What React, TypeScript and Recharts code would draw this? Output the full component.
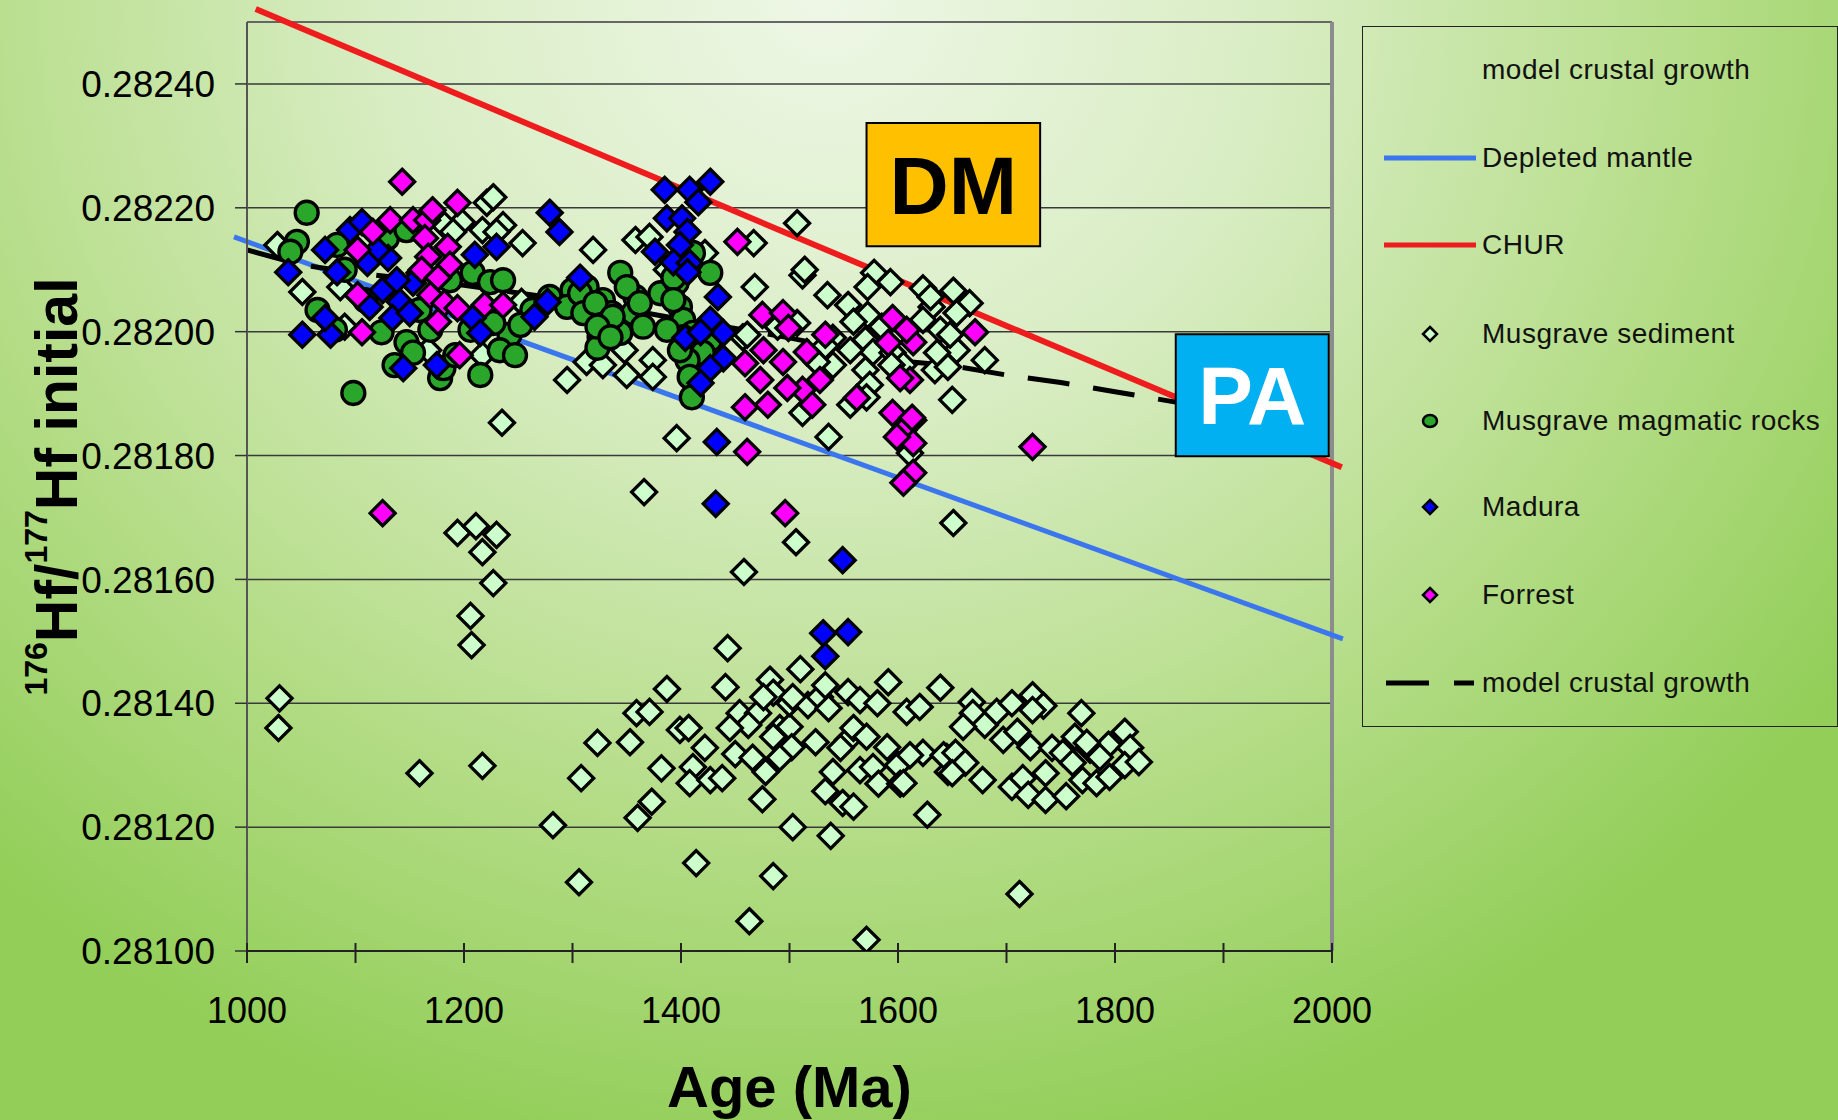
import {
  ComposedChart,
  Scatter,
  Line,
  XAxis,
  YAxis,
  CartesianGrid,
  ReferenceLine,
  ReferenceArea,
} from 'recharts';

// ages in Ma, 176Hf/177Hf initial
const sedimentPts: [number, number][] = [
  [1282, 0.281203], [1306, 0.281111], [1308, 0.281279], [1323, 0.281336], [1353, 0.281337],
  [1359, 0.281384], [1371, 0.281386], [1387, 0.281423], [1382, 0.281295], [1373, 0.281241],
  [1360, 0.281215], [1399, 0.281357], [1407, 0.28136], [1411, 0.281297], [1408, 0.281271],
  [1422, 0.281328], [1427, 0.281276], [1438, 0.281279], [1414, 0.281142], [1443, 0.281489],
  [1441, 0.281426], [1454, 0.281384], [1471, 0.281384], [1462, 0.281365], [1445, 0.28136],
  [1450, 0.281318], [1466, 0.281312], [1478, 0.281289], [1475, 0.281245], [1463, 0.281048],
  [1485, 0.281121], [1482, 0.281438], [1485, 0.281417], [1476, 0.28141], [1491, 0.28136],
  [1485, 0.281346], [1500, 0.281362], [1502, 0.281329], [1491, 0.281312], [1510, 0.281455],
  [1500, 0.2814], [1517, 0.281397], [1503, 0.28141], [1503, 0.2812], [1524, 0.281337],
  [1528, 0.28141], [1536, 0.281392], [1533, 0.281429], [1554, 0.281418], [1565, 0.281405],
  [1581, 0.2814], [1591, 0.281434], [1540, 0.281289], [1533, 0.281258], [1538, 0.281186],
  [1549, 0.281239], [1559, 0.281233], [1554, 0.281341], [1559, 0.28136], [1571, 0.281346],
  [1547, 0.281328], [1565, 0.281292], [1577, 0.281297], [1582, 0.28127], [1590, 0.281329],
  [1600, 0.2813], [1602, 0.28127], [1571, 0.281018], [1608, 0.281386], [1620, 0.281394],
  [1627, 0.28122], [1623, 0.28132], [1611, 0.281316], [1639, 0.281425], [1645, 0.281313],
  [1646, 0.281289], [1605, 0.281271], [1642, 0.281316], [1653, 0.28132], [1662, 0.281304],
  [1650, 0.281287], [1668, 0.281402], [1669, 0.281384], [1680, 0.281365], [1660, 0.281362],
  [1678, 0.281276], [1691, 0.281386], [1705, 0.2814], [1724, 0.281413], [1734, 0.281396],
  [1724, 0.281389], [1697, 0.281341], [1710, 0.281354], [1722, 0.281329], [1705, 0.281265],
  [1715, 0.281279], [1720, 0.281252], [1736, 0.281244], [1736, 0.281287], [1742, 0.281328],
  [1752, 0.28132], [1712, 0.281092], [1755, 0.28125], [1761, 0.281304], [1763, 0.281346],
  [1770, 0.281276], [1777, 0.281325], [1783, 0.281271], [1769, 0.281384], [1794, 0.281333],
  [1795, 0.281281], [1809, 0.281354], [1814, 0.281328], [1809, 0.2813], [1822, 0.281305],
  [1786, 0.281313], [1774, 0.281336],
  [1030, 0.281408], [1029, 0.28136], [1159, 0.281287], [1217, 0.281299], [1194, 0.281675],
  [1211, 0.281686], [1230, 0.281672], [1217, 0.281644], [1227, 0.281594], [1206, 0.281541],
  [1207, 0.281494], [1366, 0.281741], [1458, 0.281612], [1506, 0.28166], [1651, 0.281691],
  [1396, 0.281828], [1235, 0.281853],
  [1028, 0.28214], [1051, 0.282064], [1090, 0.282008], [1221, 0.282208], [1227, 0.282217],
  [1198, 0.282177], [1217, 0.282164], [1236, 0.282172], [1230, 0.282161], [1254, 0.282143],
  [1182, 0.282172], [1190, 0.282161], [1086, 0.282072], [1167, 0.28197], [1217, 0.281962],
  [1253, 0.282048], [1295, 0.281922], [1319, 0.282132], [1358, 0.282148], [1371, 0.282153],
  [1313, 0.281951], [1328, 0.281946], [1348, 0.28197], [1350, 0.28193], [1374, 0.281954],
  [1374, 0.281927], [1422, 0.282127], [1507, 0.282175], [1512, 0.282091], [1514, 0.2821],
  [1468, 0.282072], [1387, 0.2821], [1457, 0.281991], [1535, 0.282059], [1578, 0.282095],
  [1593, 0.28208], [1572, 0.282072], [1623, 0.28207], [1631, 0.28204], [1666, 0.282046],
  [1654, 0.28203], [1554, 0.282043], [1572, 0.282027], [1585, 0.282008], [1512, 0.281869],
  [1536, 0.28183], [1650, 0.28189], [1680, 0.281954], [1634, 0.281938], [1623, 0.282019],
  [1639, 0.282003], [1570, 0.281987], [1577, 0.281967], [1556, 0.28197], [1540, 0.28199],
  [1540, 0.281946], [1570, 0.281938], [1595, 0.281966], [1605, 0.281946], [1654, 0.28197],
  [1648, 0.281995], [1461, 0.281995], [1574, 0.281914], [1571, 0.281894], [1614, 0.281857],
  [1646, 0.281943], [1559, 0.282016], [1630, 0.282056], [1636, 0.281966], [1594, 0.281946],
  [1556, 0.281882], [1611, 0.281804], [1467, 0.282143], [1533, 0.281977], [1651, 0.282066],
  [1489, 0.282008], [1507, 0.282014], [1525, 0.281951],
];

const magmaticPts: [number, number][] = [
  [1055, 0.282192], [1046, 0.282145], [1040, 0.282129], [1098, 0.281901], [1124, 0.281999],
  [1147, 0.281983], [1153, 0.281966], [1178, 0.281925], [1181, 0.281941], [1208, 0.282095],
  [1224, 0.28208], [1236, 0.282083], [1242, 0.281995], [1233, 0.28197], [1227, 0.282014],
  [1129, 0.282151], [1147, 0.282164], [1083, 0.28214], [1263, 0.282035], [1090, 0.2821],
  [1109, 0.282051], [1159, 0.282035], [1187, 0.282083], [1206, 0.282003], [1215, 0.28193],
  [1192, 0.281962], [1136, 0.281946], [1169, 0.282003], [1252, 0.282011], [1247, 0.281962],
  [1065, 0.282035], [1081, 0.282003],
  [1300, 0.282067], [1313, 0.282072], [1328, 0.282051], [1344, 0.282095], [1336, 0.28203],
  [1325, 0.281991], [1323, 0.281974], [1344, 0.281998], [1358, 0.282056], [1279, 0.282056],
  [1295, 0.28204], [1307, 0.282062], [1310, 0.28203], [1321, 0.282046], [1350, 0.282072],
  [1356, 0.28203], [1337, 0.282024], [1323, 0.282008], [1335, 0.281991], [1381, 0.282062],
  [1396, 0.282079], [1399, 0.28204], [1411, 0.282127], [1402, 0.282019], [1411, 0.281998],
  [1427, 0.281987], [1420, 0.281966], [1362, 0.282046], [1365, 0.282008], [1393, 0.282087],
  [1393, 0.282051], [1402, 0.281991], [1406, 0.281954], [1408, 0.281927], [1410, 0.281894],
  [1427, 0.282095], [1387, 0.282003], [1399, 0.28197],
];

const maduraPts: [number, number][] = [
  [1038, 0.282096], [1051, 0.281995], [1072, 0.282132], [1083, 0.282096], [1077, 0.281995],
  [1072, 0.282022], [1095, 0.282164], [1106, 0.282177], [1113, 0.28204], [1130, 0.282119],
  [1141, 0.282048], [1134, 0.282022], [1150, 0.28203], [1120, 0.282132], [1144, 0.281941],
  [1175, 0.281946], [1208, 0.282022], [1210, 0.282124], [1230, 0.282137], [1265, 0.282024],
  [1159, 0.282095], [1153, 0.282079], [1125, 0.282067], [1111, 0.282111], [1138, 0.282083],
  [1215, 0.281998], [1279, 0.282192], [1288, 0.282161], [1307, 0.282087], [1277, 0.282048],
  [1385, 0.282229], [1408, 0.282229], [1427, 0.282242], [1416, 0.282209], [1387, 0.282183],
  [1401, 0.282183], [1406, 0.282161], [1399, 0.28214], [1376, 0.282129], [1393, 0.282112],
  [1408, 0.282111], [1406, 0.282096], [1434, 0.282056], [1404, 0.28199], [1439, 0.281998],
  [1439, 0.281957], [1427, 0.282019], [1418, 0.281999], [1427, 0.281941], [1418, 0.281917],
  [1433, 0.281822], [1432, 0.281722], [1549, 0.281631], [1531, 0.281513], [1554, 0.281515],
  [1533, 0.281476],
];

const forrestPts: [number, number][] = [
  [1143, 0.282242], [1194, 0.282208], [1132, 0.28218], [1116, 0.282161], [1102, 0.282132],
  [1153, 0.28218], [1166, 0.28218], [1171, 0.282196], [1164, 0.282151], [1185, 0.282137],
  [1167, 0.282121], [1187, 0.282108], [1161, 0.2821], [1176, 0.282087], [1102, 0.282059],
  [1106, 0.281999], [1169, 0.282059], [1182, 0.282046], [1194, 0.282038], [1176, 0.282016],
  [1219, 0.282043], [1236, 0.282043], [1196, 0.281962], [1452, 0.282145], [1475, 0.282027],
  [1494, 0.28203], [1499, 0.282006], [1476, 0.28197], [1494, 0.281951], [1516, 0.281967],
  [1533, 0.281995], [1528, 0.281922], [1512, 0.281906], [1498, 0.281909], [1473, 0.281922],
  [1459, 0.281949], [1459, 0.281878], [1480, 0.281882], [1521, 0.281882], [1562, 0.281893],
  [1595, 0.282022], [1591, 0.281982], [1614, 0.281983], [1611, 0.281922], [1608, 0.282003],
  [1671, 0.281999], [1724, 0.281814], [1461, 0.281806], [1595, 0.281869], [1605, 0.281841],
  [1614, 0.28182], [1599, 0.28183], [1613, 0.281861], [1614, 0.281772], [1605, 0.281756],
  [1602, 0.281925], [1125, 0.281707], [1496, 0.281707],
];

const crustalGrowth: [number, number][] = [
  [1000, 0.282132], [1050, 0.282108], [1100, 0.282095], [1150, 0.282085], [1200, 0.282075],
  [1260, 0.28206], [1320, 0.282045], [1400, 0.28202], [1450, 0.282005], [1500, 0.28199],
  [1550, 0.281972], [1600, 0.281953], [1650, 0.281945], [1700, 0.28193], [1750, 0.281918],
  [1800, 0.281903], [1860, 0.281885],
];

const churLine: [number, number][] = [[1008, 0.282521], [2009, 0.281781]];
const depletedMantle: [number, number][] = [[988, 0.282153], [2010, 0.281504]];

const xTicks = [1000, 1100, 1200, 1300, 1400, 1500, 1600, 1700, 1800, 1900, 2000];
const yTicks = [0.281, 0.2812, 0.2814, 0.2816, 0.2818, 0.282, 0.2822, 0.2824];

const legendItems = [
  { label: 'model crustal growth', kind: 'none' },
  { label: 'Depleted mantle', kind: 'line', color: '#3b76ee' },
  { label: 'CHUR', kind: 'line', color: '#ee1c1c' },
  { label: 'Musgrave sediment', kind: 'diamond', color: '#ccffcc' },
  { label: 'Musgrave magmatic rocks', kind: 'circle', color: '#2aa62a' },
  { label: 'Madura', kind: 'diamond', color: '#0000ff' },
  { label: 'Forrest', kind: 'diamond', color: '#ff00ff' },
  { label: 'model crustal growth', kind: 'dash', color: '#000' },
];

const FONT = '"Liberation Sans", Arial, sans-serif';

const toPts = (a: [number, number][]) => a.map(([age, hf]) => ({ age, hf }));

const diamond = (fill: string) => (p: any) => {
  const { cx, cy } = p;
  if (cx == null || cy == null) return <g />;
  const r = 12.5;
  return (
    <path
      d={`M${cx},${cy - r}L${cx + r},${cy}L${cx},${cy + r}L${cx - r},${cy}Z`}
      fill={fill}
      stroke="#000"
      strokeWidth={3.3}
    />
  );
};

const circle = (fill: string) => (p: any) => {
  const { cx, cy } = p;
  if (cx == null || cy == null) return <g />;
  return <circle cx={cx} cy={cy} r={11.5} fill={fill} stroke="#000" strokeWidth={3.3} />;
};

function AgeTick(props: any) {
  const { x, y, payload } = props;
  const axisY = y - 46;
  const v = payload.value;
  return (
    <g>
      <line x1={x} x2={x} y1={axisY - 8} y2={axisY + 12} stroke="#222" strokeWidth={2} />
      {v % 200 === 0 && (
        <text x={x} y={y} dy="0.71em" textAnchor="middle" fontSize={36} fontFamily={FONT} fill="#000">
          {v}
        </text>
      )}
    </g>
  );
}

function YTitle(props: any) {
  const vb = props.viewBox;
  const x = vb.x + 30;
  const y = vb.y + vb.height / 2;
  return (
    <text
      transform={`translate(${x},${y}) rotate(-90)`}
      textAnchor="middle"
      fontSize={59}
      fontWeight="bold"
      fontFamily={FONT}
      fill="#000"
    >
      <tspan fontSize={32} dy={-30}>176</tspan>
      <tspan dy={30}>Hf/</tspan>
      <tspan fontSize={32} dy={-30}>177</tspan>
      <tspan dy={30}>Hf initial</tspan>
    </text>
  );
}

function XTitle(props: any) {
  const vb = props.viewBox;
  return (
    <text
      x={vb.x + vb.width / 2}
      y={1107}
      textAnchor="middle"
      fontSize={58}
      fontWeight="bold"
      fontFamily={FONT}
      fill="#000"
    >
      Age (Ma)
    </text>
  );
}

function LegendBox() {
  const rowY = [43, 131, 218, 307, 394, 480, 568, 656];
  return (
    <div
      style={{
        position: 'absolute',
        left: 1362,
        top: 26,
        width: 476,
        height: 701,
        border: '1.5px solid #222',
        boxSizing: 'border-box',
        fontFamily: FONT,
      }}
    >
      {legendItems.map((it, i) => (
        <div key={i} style={{ position: 'absolute', left: 0, top: rowY[i] - 20, height: 40, width: 476 }}>
          <svg width={118} height={40} style={{ position: 'absolute', left: 0, top: 0 }}>
            {it.kind === 'line' && <line x1={21} x2={113} y1={20} y2={20} stroke={it.color} strokeWidth={5} />}
            {it.kind === 'dash' && (
              <>
                <line x1={23} x2={66} y1={20} y2={20} stroke="#000" strokeWidth={5} />
                <line x1={91} x2={111} y1={20} y2={20} stroke="#000" strokeWidth={5} />
              </>
            )}
            {it.kind === 'diamond' && (
              <path d="M67,13L74,20L67,27L60,20Z" fill={it.color} stroke="#000" strokeWidth={2.5} />
            )}
            {it.kind === 'circle' && (
              <ellipse cx={67} cy={20} rx={7} ry={6} fill={it.color} stroke="#000" strokeWidth={2.5} />
            )}
          </svg>
          <div
            style={{
              position: 'absolute',
              left: 119,
              top: 0,
              lineHeight: '40px',
              fontSize: 28,
              letterSpacing: 0.5,
              color: '#111',
              whiteSpace: 'nowrap',
            }}
          >
            {it.label}
          </div>
        </div>
      ))}
    </div>
  );
}

export default function App() {
  return (
    <div
      style={{
        position: 'absolute',
        left: 0,
        top: 0,
        width: 1838,
        height: 1120,
        overflow: 'hidden',
        background:
          'radial-gradient(ellipse 68% 105% at 45% 0%, #eef7e6 0%, #d9edc4 35%, #b5dd88 70%, #92ce58 100%)',
      }}
    >
      <ComposedChart width={1838} height={1120} margin={{ top: 22, right: 506, bottom: 69, left: 47 }}>
        <CartesianGrid horizontal vertical={false} stroke="#3a3a3a" strokeWidth={1.5} />
        <XAxis
          type="number"
          dataKey="age"
          domain={[1000, 2000]}
          ticks={xTicks}
          allowDataOverflow
          height={100}
          tickSize={12}
          tickMargin={34}
          tickLine={false}
          tick={<AgeTick />}
          axisLine={{ stroke: '#222', strokeWidth: 2 }}
          label={<XTitle />}
        />
        <YAxis
          type="number"
          dataKey="hf"
          domain={[0.281, 0.2825]}
          ticks={yTicks}
          allowDataOverflow
          width={200}
          tickSize={12}
          tickMargin={20}
          tickFormatter={(v: number) => v.toFixed(5)}
          tick={{ fill: '#000', fontSize: 37, fontFamily: FONT }}
          tickLine={{ stroke: '#333', strokeWidth: 1.5 }}
          axisLine={{ stroke: '#555', strokeWidth: 2 }}
          label={<YTitle />}
        />
        <ReferenceLine y={0.2825} stroke="#666" strokeWidth={2} />
        <ReferenceLine x={2000} stroke="#8c8c8c" strokeWidth={4} />
        <ReferenceLine
          segment={depletedMantle.map(([age, hf]) => ({ x: age, y: hf }))}
          stroke="#3b76ee"
          strokeWidth={5}
          ifOverflow="visible"
        />
        <ReferenceLine
          segment={churLine.map(([age, hf]) => ({ x: age, y: hf }))}
          stroke="#ee1c1c"
          strokeWidth={6}
          ifOverflow="visible"
        />
        <Line
          data={toPts(crustalGrowth)}
          dataKey="hf"
          stroke="#000"
          strokeWidth={5}
          strokeDasharray="42 24"
          dot={false}
          activeDot={false}
          isAnimationActive={false}
        />
        <Scatter data={toPts(sedimentPts)} shape={diamond('#ccffcc')} isAnimationActive={false} />
        <Scatter data={toPts(magmaticPts)} shape={circle('#2aa62a')} isAnimationActive={false} />
        <Scatter data={toPts(maduraPts)} shape={diamond('#0000ff')} isAnimationActive={false} />
        <Scatter data={toPts(forrestPts)} shape={diamond('#ff00ff')} isAnimationActive={false} />
        <ReferenceArea
          x1={1571}
          x2={1731}
          y1={0.282138}
          y2={0.282337}
          fill="#ffc000"
          fillOpacity={1}
          stroke="#000"
          strokeWidth={2}
          ifOverflow="visible"
          zIndex={1000}
          label={{ value: 'DM', position: 'center', fill: '#000', fontSize: 82, fontWeight: 'bold', fontFamily: FONT }}
        />
        <ReferenceArea
          x1={1856}
          x2={1997}
          y1={0.281799}
          y2={0.281996}
          fill="#00b0f0"
          fillOpacity={1}
          stroke="#000"
          strokeWidth={2}
          ifOverflow="visible"
          zIndex={1000}
          label={{ value: 'PA', position: 'center', fill: '#fff', fontSize: 82, fontWeight: 'bold', fontFamily: FONT }}
        />
      </ComposedChart>
      <LegendBox />
    </div>
  );
}
